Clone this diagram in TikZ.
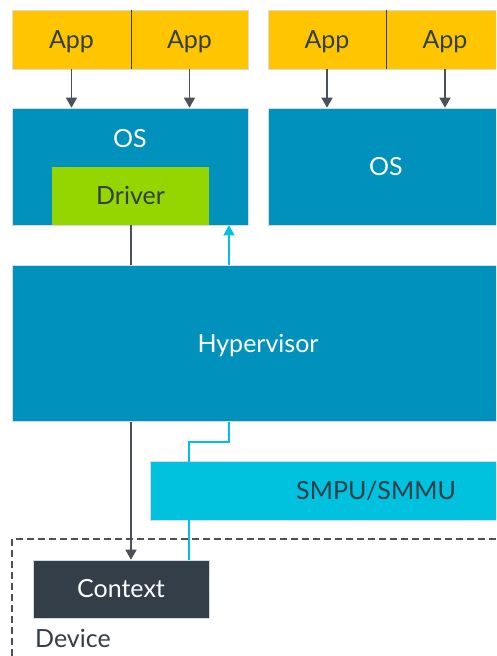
\documentclass[tikz,border=0pt]{standalone}
\usepackage{fontspec}
\setmainfont{Lato}
\usetikzlibrary{arrows.meta,calc}
\definecolor{appyel}{HTML}{FFC600}
\definecolor{osblue}{HTML}{0091BD}
\definecolor{drvgreen}{HTML}{95D600}
\definecolor{smcyan}{HTML}{00C1DE}
\definecolor{dark}{HTML}{333E48}
\definecolor{lgray}{HTML}{4B5158}
\definecolor{edge}{HTML}{D5DCE0}
\tikzset{
  blk/.style={rectangle, inner sep=0pt, draw=edge, line width=0.6pt, font=\fontsize{25}{29}\selectfont, text height=17.9pt, text depth=0pt},
  appbox/.style={blk, fill=appyel, text=dark},
  osbox/.style={blk, fill=osblue, text=white},
  drvbox/.style={blk, fill=drvgreen, draw=none, text=dark},
  smbox/.style={blk, fill=smcyan},
  ctxbox/.style={blk, fill=dark, text=white},
  lbl/.style={inner sep=0pt, font=\fontsize{25}{29}\selectfont, text height=17.9pt, text depth=0pt},
  darr/.style={draw=lgray, line width=1.4pt, -{Triangle[length=10pt,width=11pt]}},
  dline/.style={draw=lgray, line width=1.4pt},
  carr/.style={draw=smcyan, line width=1.4pt, -{Triangle[length=10pt,width=11pt]}},
  cline/.style={draw=smcyan, line width=1.4pt},
}
\begin{document}
\begin{tikzpicture}[x=1pt,y=-1pt]
\useasboundingbox (0,0) rectangle (496,656);
\clip (0,0) rectangle (496,656);
\fill[white] (0,0) rectangle (496,656);
% apps
\node[appbox, minimum width=119pt, minimum height=59pt] (a1) at (71.5,39.5) {App};
\node[appbox, minimum width=117pt, minimum height=59pt] (a2) at (189.5,39.5) {App};
\node[appbox, minimum width=118pt, minimum height=59pt] (a3) at (327,39.5) {App};
\node[appbox, minimum width=118pt, minimum height=59pt] (a4) at (445,39.5) {App};
\draw[dark, line width=1pt] (a1.north east) -- (a1.south east);
\draw[dark, line width=1pt] (a3.north east) -- (a3.south east);
% OS boxes
\node[osbox, minimum width=236pt, minimum height=117pt] (os1) at (130,166.5) {};
\node[lbl, text=white] (os1t) at (130,139) {OS};
\node[drvbox, minimum width=157pt, minimum height=58pt] (drv) at (130.5,196) {Driver};
\node[osbox, minimum width=236pt, minimum height=117pt] (os2) at (386,166.5) {OS};
% app arrows
\draw[darr] (a1.south) -- (a1.south |- os1.north);
\draw[darr] (a2.south) -- (a2.south |- os1.north);
\draw[darr] (a3.south) -- (a3.south |- os2.north);
\draw[darr] (a4.south) -- (a4.south |- os2.north);
% hypervisor
\node[osbox, minimum width=492pt, minimum height=156pt] (hyp) at (258,343.5) {Hypervisor};
% SMPU
\node[smbox, minimum width=452pt, minimum height=59pt] (sm) at (376,490.5) {};
\node[lbl, text=dark] (smt) at (376,491) {SMPU/SMMU};
% device
\draw[lgray, line width=1.4pt, dash pattern=on 7pt off 4pt] (12,656) -- (12,539) -- (510,539);
\node[ctxbox, minimum width=176pt, minimum height=58pt] (ctx) at (121,589) {Context};
\node[lbl, text=dark, anchor=west] (dev) at (35,639) {Device};
% connectors
\coordinate (g1) at (131,0);
\coordinate (c1) at (229,0);
\coordinate (c2) at (189,0);
\draw[dline] (os1.south -| g1) -- (hyp.north -| g1);
\draw[carr] (hyp.north -| c1) -- (os1.south -| c1);
\draw[darr] (hyp.south -| g1) -- (ctx.north -| g1);
\draw[cline] (hyp.south -| c1) -- ($(hyp.south -| c1)+(0,20)$) -| (ctx.north -| c2);
\end{tikzpicture}
\end{document}
